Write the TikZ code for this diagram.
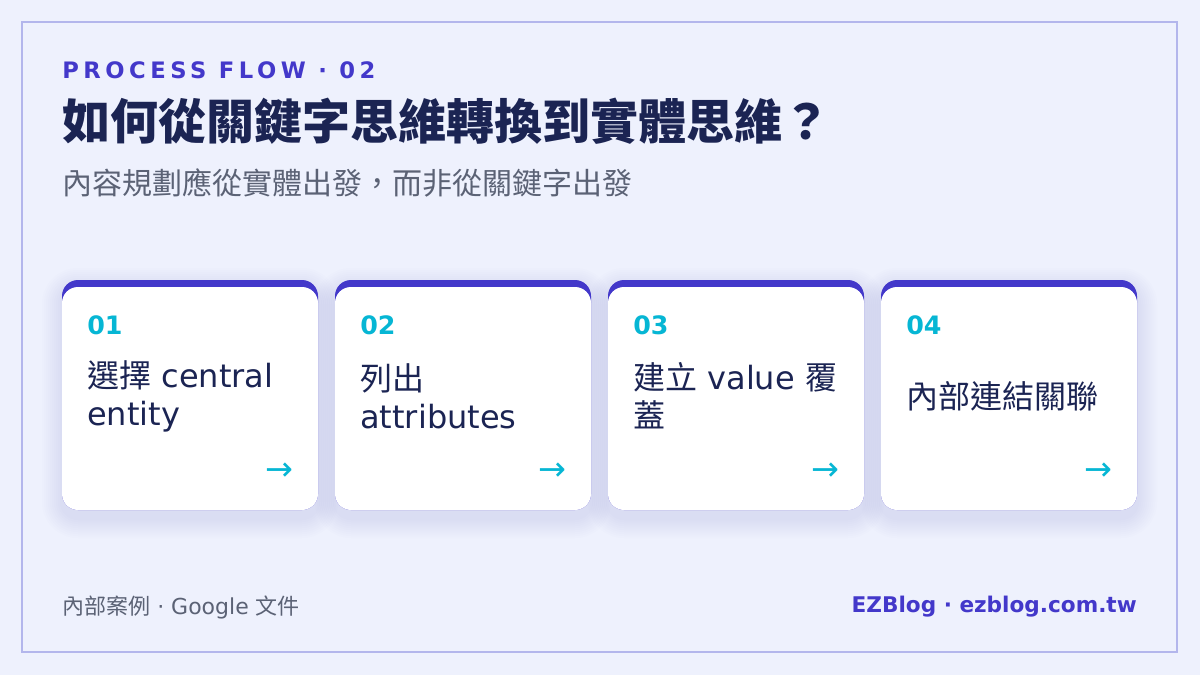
\documentclass[tikz,border=0pt]{standalone}
\usepackage{fontspec}
\setmainfont{Noto Sans CJK TC}
\newfontfamily\cjk{Noto Sans CJK TC}
\newfontfamily\dejavu{DejaVu Sans}
\usetikzlibrary{positioning}

\definecolor{pagebg}{HTML}{EEF1FD}
\definecolor{framec}{HTML}{B3B6EC}
\definecolor{indigoc}{HTML}{4338CA}
\definecolor{cyanc}{HTML}{06B6D4}
\definecolor{navyc}{HTML}{1B2453}
\definecolor{grayc}{HTML}{5B6275}
\definecolor{shadowc}{HTML}{8C95C8}

\begin{document}
\begin{tikzpicture}[x=0.75pt, y=-0.75pt,
    kicker/.style={anchor=base west, inner sep=0pt, text=indigoc,
        font=\dejavu\fontsize{17}{20}\selectfont\bfseries\addfontfeatures{LetterSpace=20}},
    headline/.style={anchor=west, inner sep=0pt, text=navyc,
        font=\fontsize{36}{40}\selectfont\bfseries},
    subline/.style={anchor=west, inner sep=0pt, text=grayc,
        font=\fontsize{22.5}{26}\selectfont},
    numtxt/.style={anchor=west, inner sep=0pt, text=cyanc,
        font=\dejavu\fontsize{19}{22}\selectfont\bfseries},
    bodytxt/.style={anchor=west, inner sep=0pt, text=navyc, align=left,
        font=\dejavu\fontsize{24}{28.5}\selectfont},
    arrowtxt/.style={anchor=east, inner sep=0pt, text=cyanc,
        font=\dejavu\fontsize{25}{28}\selectfont},
    cardtop/.style={fill=indigoc, rounded corners=12pt},
    cardface/.style={fill=white, rounded corners=12pt},
    footl/.style={anchor=west, inner sep=0pt, text=grayc,
        font=\dejavu\fontsize{16.5}{18}\selectfont},
    footr/.style={anchor=east, inner sep=0pt, text=indigoc,
        font=\dejavu\fontsize{16.2}{18}\selectfont\bfseries}
]

    % Page and frame
    \fill[pagebg] (0,0) rectangle (1200,675);
    \useasboundingbox (0,0) rectangle (1200,675);
    \draw[framec, line width=1.5pt] (22,22) rectangle (1177,652);

    % Heading
    \node[kicker] (kicker) at (62,78) {PROCESS FLOW · 02};
    \node[headline] (title) at (62,121) {如何從關鍵字思維轉換到實體思維？};
    \node[subline] (subtitle) at (62,183) {內容規劃應從實體出發，而非從關鍵字出發};

    % Card shadows
    \foreach \x in {62,335,608,881}
        \foreach \s in {2,4,...,20}
            \fill[shadowc, opacity=0.014, rounded corners=12pt+0.75*\s pt]
                (\x-\s,280+8-\s) rectangle (\x+256+\s,510+8+\s);

    % Card 1
    \fill[cardtop] (62,280) rectangle (318,510);
    \fill[cardface] (62,287) rectangle (318,510);
    \node[numtxt] (num1) at (87,325) {01};
    \node[bodytxt] (step1) at (87,396) {{\cjk 選擇} central\\entity};
    \node[arrowtxt] (arr1) at (294,472) {→};

    % Card 2
    \fill[cardtop] (335,280) rectangle (591,510);
    \fill[cardface] (335,287) rectangle (591,510);
    \node[numtxt] (num2) at (360,325) {02};
    \node[bodytxt] (step2) at (360,396) {{\cjk 列出}\\attributes};
    \node[arrowtxt] (arr2) at (567,472) {→};

    % Card 3
    \fill[cardtop] (608,280) rectangle (864,510);
    \fill[cardface] (608,287) rectangle (864,510);
    \node[numtxt] (num3) at (633,325) {03};
    \node[bodytxt] (step3) at (633,396) {{\cjk 建立} value {\cjk 覆}\\{\cjk 蓋}};
    \node[arrowtxt] (arr3) at (840,472) {→};

    % Card 4
    \fill[cardtop] (881,280) rectangle (1137,510);
    \fill[cardface] (881,287) rectangle (1137,510);
    \node[numtxt] (num4) at (906,325) {04};
    \node[bodytxt] (step4) at (906,396) {{\cjk 內部連結關聯}};
    \node[arrowtxt] (arr4) at (1113,472) {→};

    % Footer
    \node[footl] (source) at (62,607) {{\cjk 內部案例} · Google {\cjk 文件}};
    \node[footr] (brand) at (1137,607) {EZBlog · ezblog.com.tw};
\end{tikzpicture}
\end{document}
